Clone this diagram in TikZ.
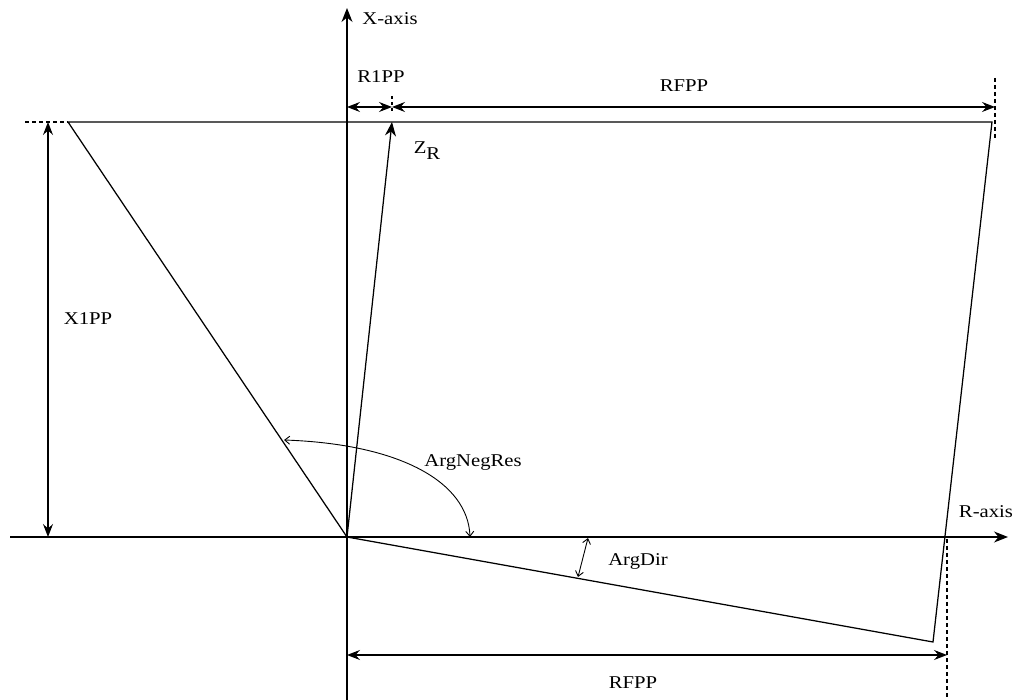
\documentclass[tikz,border=0pt]{standalone}
\usepackage{fontspec}
\setmainfont[FakeStretch=1.15]{Liberation Serif}
\usetikzlibrary{arrows.meta}
\begin{document}
\begin{tikzpicture}[x=1pt,y=-1pt,
  ln/.style={line width=1.25pt},
  bigarrow/.style={-{Stealth[length=14pt,width=11pt,inset=4.5pt]}, line width=1.25pt},
  dimline/.style={{Stealth[length=13pt,width=10pt,inset=4.5pt]}-{Stealth[length=13pt,width=10pt,inset=4.5pt]}, line width=1.1pt},
  smallarrow/.style={{Straight Barb[length=5pt,width=8pt]}-{Straight Barb[length=5pt,width=8pt]}, line width=0.9pt},
  lab/.style={font=\fontsize{18}{21}\selectfont, inner sep=0pt},
  dsh/.style={dash pattern=on 4pt off 3pt, line width=1.1pt}]
\useasboundingbox (0,0) rectangle (1013,700);
% key points
\coordinate (O) at (347,537);
\coordinate (TL) at (68,122);
\coordinate (TR) at (992,122);
\coordinate (BR) at (933,642);
\coordinate (ZT) at (392,122);
\coordinate (Xtop) at (347,8);
\coordinate (Xbot) at (347,700);
\coordinate (Rl) at (10,537);
\coordinate (Rr) at (1008,537);
% axes
\draw[bigarrow] (Rl) -- (Rr);
\draw[bigarrow] (Xbot) -- (Xtop);
% polygon
\draw[ln] (O) -- (TL) -- (TR) -- (BR) -- cycle;
% Z_R
\draw[bigarrow] (O) -- (ZT);
% top dimensions
\coordinate (d1a) at (347,107);
\coordinate (d1b) at (392,107);
\coordinate (d2b) at (995,107);
\draw[dimline] (d1a) -- (d1b);
\draw[dimline] (d1b) -- (d2b);
\coordinate (t1a) at (392,96);
\coordinate (t1b) at (392,111);
\draw[dsh, dash pattern=on 3pt off 3pt] (t1a) -- (t1b);
\coordinate (t2a) at (995,78);
\coordinate (t2b) at (995,140);
\draw[dsh] (t2a) -- (t2b);
% X1PP
\coordinate (xa) at (48,122);
\coordinate (xb) at (48,537);
\draw[dimline] (xa) -- (xb);
\coordinate (xd) at (25,122);
\draw[dsh] (xd) -- (TL);
% bottom RFPP
\coordinate (ba) at (347,655);
\coordinate (bb) at (947,655);
\draw[dimline] (ba) -- (bb);
\coordinate (bd1) at (947,539);
\coordinate (bd2) at (947,700);
\draw[dsh] (bd1) -- (bd2);
% ArgNegRes arc
\coordinate (aL) at (284,440);
\coordinate (aR) at (470,537);
\draw[smallarrow] (aL) .. controls (400,444) and (468,482) .. (aR);
% ArgDir
\coordinate (gT) at (588,538);
\coordinate (gB) at (578,577);
\draw[smallarrow] (gT) -- (gB);
% labels
\node[lab] (lx) at (390,19) {X-axis};
\node[lab] (lr1) at (381,77) {R1PP};
\node[lab] (lrf) at (684,86) {RFPP};
\node[lab] (lz) at (427,151) {Z\raisebox{-6pt}{R}};
\node[lab] (lx1) at (88,319) {X1PP};
\node[lab] (lan) at (473,463) {ArgNegRes};
\node[lab] (lad) at (638,561) {ArgDir};
\node[lab] (lrb) at (633,683) {RFPP};
\node[lab] (lra) at (986,512) {R-axis};
\end{tikzpicture}
\end{document}
